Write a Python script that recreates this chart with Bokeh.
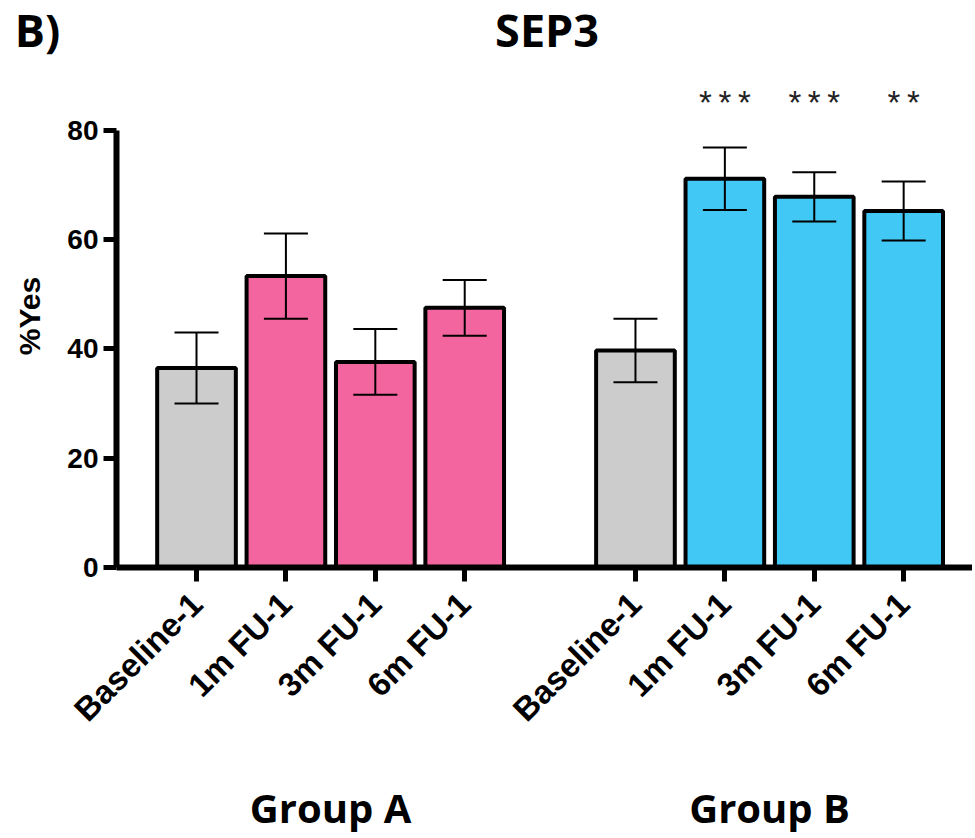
from bokeh.plotting import figure
from bokeh.layouts import column
from bokeh.models import Range1d, FixedTicker, Whisker, TeeHead, ColumnDataSource
from bokeh.core.properties import value
from bokeh.embed import file_html
from bokeh.resources import INLINE

# data
timepoints = ["Baseline-1", "1m FU-1", "3m FU-1", "6m FU-1"]
groups = ["Group A", "Group B"]
group_a_mean = [36.5, 53.3, 37.6, 47.5]
group_a_err = [6.5, 7.8, 6.0, 5.1]
group_b_mean = [39.7, 71.1, 67.8, 65.2]
group_b_err = [5.8, 5.7, 4.5, 5.4]
group_b_stars = ["", "***", "***", "**"]
y_ticks = [0, 20, 40, 60, 80]

GRAY = "#CCCCCC"
PINK = "#F2659E"
BLUE = "#42C8F5"
GAP = 0.91  # empty space between the two groups, in bar slots

W = 972
HEAD_H, MAIN_H, FOOT_H = 64, 712, 60
LEFT = 116

xa = [float(i) for i in range(len(timepoints))]
xb = [len(timepoints) + GAP + i for i in range(len(timepoints))]
xs = xa + xb
means = group_a_mean + group_b_mean
errs = group_a_err + group_b_err
colors = [GRAY] + [PINK] * 3 + [GRAY] + [BLUE] * 3

src = ColumnDataSource(dict(
    x=xs, top=means,
    upper=[m + e for m, e in zip(means, errs)],
    lower=[m - e for m, e in zip(means, errs)],
    color=colors,
))

x_range = Range1d(-0.895, xb[-1] + 0.77)

p = figure(width=W, height=MAIN_H, x_range=x_range, y_range=Range1d(0, 92),
           output_backend="svg", toolbar_location=None,
           min_border_left=LEFT, min_border_right=0, min_border_top=0, min_border_bottom=209)
p.grid.visible = False
p.outline_line_color = None

p.vbar(x="x", top="top", width=0.88, source=src, fill_color="color",
       line_color="black", line_width=4)

wh = Whisker(base="x", upper="upper", lower="lower", source=src, level="overlay",
             line_color="black", line_width=2,
             upper_head=TeeHead(size=44, line_width=2, line_color="black"),
             lower_head=TeeHead(size=44, line_width=2, line_color="black"))
p.add_layout(wh)

# significance stars above group B
star_txt = ["\u2009".join(s) for s in group_b_stars]
star_src = ColumnDataSource(dict(x=xb, y=[85.1] * len(xb), t=star_txt))
p.text(x="x", y="y", text="t", source=star_src, text_align="center", text_baseline="alphabetic",
       text_font=value("Liberation Sans"), text_font_size="33px", text_color="#222222")

# axes
xax = p.xaxis[0]
xax.ticker = FixedTicker(ticks=xs)
xax.major_label_overrides = {x: lab for x, lab in zip(xs, timepoints + timepoints)}
xax.major_label_orientation = 0.785398
xax.major_label_text_font = "Liberation Sans"
xax.major_label_text_font_style = "bold"
xax.major_label_text_font_size = "33px"
xax.major_label_text_color = "black"
xax.axis_line_width = 6
xax.axis_line_color = "black"
xax.major_tick_in = 0
xax.major_tick_out = 14
xax.major_tick_line_width = 5
xax.minor_tick_line_color = None
xax.major_label_standoff = 17

yax = p.yaxis[0]
yax.ticker = FixedTicker(ticks=y_ticks)
yax.bounds = (0, 80)
yax.axis_label = "%Yes"
yax.axis_label_text_font = "Liberation Sans"
yax.axis_label_text_font_style = "bold"
yax.axis_label_text_font_size = "30px"
yax.axis_label_text_color = "black"
yax.axis_label_standoff = 18
yax.major_label_text_font = "Liberation Sans"
yax.major_label_text_font_style = "bold"
yax.major_label_text_font_size = "28px"
yax.major_label_text_color = "black"
yax.axis_line_width = 6
yax.axis_line_color = "black"
yax.major_tick_in = 0
yax.major_tick_out = 13
yax.major_tick_line_width = 5
yax.minor_tick_line_color = None
yax.major_label_standoff = 5

# header: panel letter and title, in pixel space
x_span = x_range.end - x_range.start
title_px = LEFT + (sum(xs) / len(xs) - x_range.start) / x_span * (W - LEFT)
head = figure(width=W, height=HEAD_H, x_range=Range1d(0, W), y_range=Range1d(0, HEAD_H),
              output_backend="svg", toolbar_location=None, x_axis_type=None, y_axis_type=None,
              min_border=0, min_border_left=0, min_border_right=0, min_border_top=0,
              min_border_bottom=0)
head.frame_align = False
head.grid.visible = False
head.outline_line_color = None
head.text(x=[37, title_px - 3], y=[HEAD_H - 29, HEAD_H - 29], text=["B)", "SEP3"],
          text_align="center", text_baseline="middle", text_font=value("Open Sans"),
          text_font_style="bold", text_font_size="45px", text_color="black")

# footer: group names under the category labels
foot = figure(width=W, height=FOOT_H, x_range=x_range, y_range=Range1d(0, FOOT_H),
              output_backend="svg", toolbar_location=None, x_axis_type=None, y_axis_type=None,
              min_border_left=LEFT, min_border_right=0, min_border_top=0, min_border_bottom=0)
foot.grid.visible = False
foot.outline_line_color = None
centers = [sum(xa) / len(xa), sum(xb) / len(xb)]
foot.text(x=centers, y=[29, 29], text=groups, text_align="center", text_baseline="middle",
          text_font=value("Open Sans"), text_font_style="bold", text_font_size="40px",
          text_color="black")

layout = column(head, p, foot, spacing=0)
open("out.html", "w").write(file_html(layout, INLINE))
